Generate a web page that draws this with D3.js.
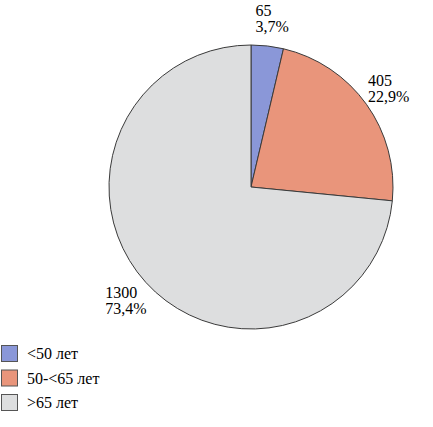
<!DOCTYPE html>
<html>
<head>
<meta charset="utf-8">
<script src="https://cdn.jsdelivr.net/npm/d3@7"></script>
<style>
  body { margin: 0; font-family: 'Times New Roman', 'Liberation Serif', serif; }
  svg text { font-family: 'Times New Roman', 'Liberation Serif', serif; font-size: 16px; }
</style>
</head>
<body>
<script>
var width  = 433
var height = 427

// data
var categories = ['<50 лет', '50-<65 лет', '>65 лет']
var values     = [65, 405, 1300]
var percents   = ['3,7%', '22,9%', '73,4%']
var colors     = ['#8a97d8', '#e9957b', '#dddedf']

var cx = 251, cy = 187
var radius = 142
var labelRadius = 169

var svg = d3.select('body')
  .append('svg')
  .attr('width', width)
  .attr('height', height)
  .attr('font-family', 'Times New Roman')

var pie = d3.pie().sort(null).value(d => d)
var arc = d3.arc().innerRadius(0).outerRadius(radius)
var labelArc = d3.arc().innerRadius(labelRadius).outerRadius(labelRadius)

var arcs = pie(values)

svg.append('g')
  .attr('transform', 'translate(' + [cx, cy] + ')')
  .selectAll('path')
  .data(arcs)
  .enter()
  .append('path')
  .attr('d', arc)
  .attr('fill', (d, i) => colors[i])
  .attr('stroke', '#3a3a3a')
  .attr('stroke-width', 1)

function addText(x, y, txt) {
  return svg.append('text')
    .attr('x', x)
    .attr('y', y)
    .attr('fill', 'black')
    .attr('font-family', 'Times New Roman')
    .style('font-family', 'Times New Roman')
    .style('font-size', '16px')
    .text(txt)
}

// approximate widths of the percent line (Times, 16px) to left-align the block
var pctWidth = [30, 41, 41]

arcs.forEach((d, i) => {
  var c = labelArc.centroid(d)
  var x = cx + c[0] - pctWidth[i] / 2, y = cy + c[1] - 3
  addText(x, y, values[i])
  addText(x, y + 16, percents[i])
})

// legend
categories.forEach((name, i) => {
  var y0 = 345 + i * 24.5
  svg.append('rect')
    .attr('x', 1.5)
    .attr('y', y0 + 0.5)
    .attr('width', 16)
    .attr('height', 16)
    .attr('fill', colors[i])
    .attr('stroke', '#555')
    .attr('stroke-width', 1)
  addText(27, y0 + 14, name)
})
</script>
</body>
</html>
